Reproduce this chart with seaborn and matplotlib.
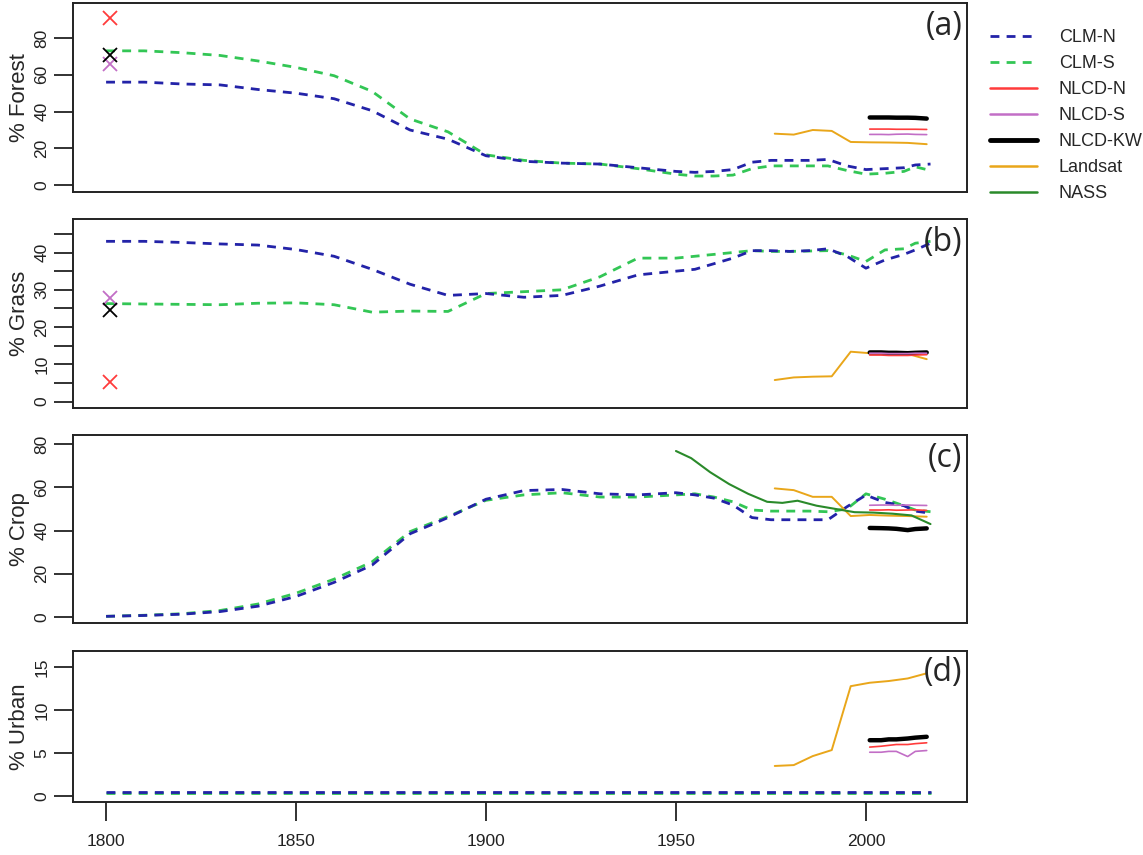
"""
Land cover fractions 1800-2017: CLM vs NLCD / Landsat / NASS
"""

import numpy as np
import matplotlib
matplotlib.use('Agg')
import matplotlib.pyplot as plt
import seaborn as sns
from matplotlib.lines import Line2D

sns.set_style("white")
plt.rcParams['font.family'] = ['Liberation Sans', 'DejaVu Sans']

# ---- data ----
clm_years = [1800, 1810, 1820, 1830, 1840, 1850, 1860, 1870, 1880, 1890,
             1900, 1910, 1920, 1930, 1940, 1950, 1955, 1960, 1965, 1970,
             1975, 1980, 1985, 1990, 1995, 2000, 2005, 2010, 2013, 2017]

forest_clm_n = [56, 56, 55, 54.5, 52, 50, 47, 40.5, 30, 25,
                16, 13, 12, 11.5, 9.5, 7.5, 7, 7.5, 8.5, 12.5,
                13.5, 13.5, 13.5, 14, 10.5, 8.5, 9, 9.5, 11, 11.5]
forest_clm_s = [73, 73, 72, 70.5, 67.5, 64, 59.5, 51, 36, 29,
                16.5, 13.5, 12, 11.5, 9, 6, 5, 5, 5.5, 9,
                10.5, 10.5, 10.5, 10.5, 8, 6, 6.5, 7.5, 10, 8]
grass_clm_n = [43, 43, 42.7, 42.3, 42, 40.8, 39, 35.5, 31.5, 28.5,
               29, 28, 28.5, 31, 34, 35, 35.5, 37, 38.5, 40.5,
               40.5, 40.3, 40.5, 41, 39, 35.8, 38, 39.5, 40.7, 42.5]
grass_clm_s = [26.3, 26.2, 26.1, 26, 26.4, 26.5, 26, 24, 24.3, 24.2,
               29, 29.5, 30, 33.5, 38.5, 38.5, 39, 39.5, 40, 40.5,
               40.3, 40.3, 40.4, 40.5, 39.4, 37.6, 40.7, 41, 42.5, 43]
crop_clm_n = [0.3, 0.7, 1.3, 2.5, 5, 9.5, 16, 24, 38.5, 46,
              54.5, 58.5, 59, 57, 56.5, 57.5, 56.5, 55, 51.8, 46,
              45, 45, 45, 45, 51, 56.4, 53, 51.5, 49, 48]
crop_clm_s = [0.3, 0.8, 1.5, 3, 6, 11, 17.5, 25.5, 39.5, 46.5,
              54, 56.5, 57.5, 55.5, 55.5, 56.5, 57, 55.5, 53.3, 49.5,
              49, 49, 49, 48.7, 50, 57, 54.5, 51.5, 49.5, 48.7]
urban_clm_n = [0.5, 0.5, 0.5, 0.5, 0.5, 0.5, 0.5, 0.5, 0.5, 0.5,
               0.5, 0.5, 0.5, 0.5, 0.5, 0.5, 0.5, 0.5, 0.5, 0.5,
               0.5, 0.5, 0.5, 0.5, 0.5, 0.5, 0.5, 0.5, 0.5, 0.5]
urban_clm_s = [0.3, 0.3, 0.3, 0.3, 0.3, 0.3, 0.3, 0.3, 0.3, 0.3,
               0.3, 0.3, 0.3, 0.3, 0.3, 0.3, 0.3, 0.3, 0.3, 0.3,
               0.3, 0.3, 0.3, 0.3, 0.3, 0.3, 0.3, 0.3, 0.3, 0.3]

nlcd_years = [2001, 2004, 2006, 2008, 2011, 2013, 2016]
forest_nlcd_n = [30.5, 30.5, 30.5, 30.4, 30.4, 30.4, 30.3]
forest_nlcd_s = [27.6, 27.6, 27.5, 27.7, 27.8, 27.6, 27.5]
forest_nlcd_kw = [36.8, 36.8, 36.8, 36.7, 36.7, 36.6, 36.2]
grass_nlcd_n = [12.5, 12.5, 12.4, 12.4, 12.4, 12.5, 12.6]
grass_nlcd_s = [13.0, 13.0, 12.9, 12.9, 12.9, 13.0, 13.0]
grass_nlcd_kw = [13.2, 13.2, 13.1, 13.1, 13.0, 13.1, 13.2]
crop_nlcd_n = [49.5, 49.5, 49.6, 49.4, 49.5, 49.6, 49.3]
crop_nlcd_s = [51.7, 51.8, 51.8, 51.7, 51.8, 51.7, 51.6]
crop_nlcd_kw = [41.2, 41.1, 41.0, 40.8, 40.2, 40.7, 41.0]
urban_nlcd_n = [5.7, 5.8, 5.9, 6.0, 6.0, 6.1, 6.2]
urban_nlcd_s = [5.1, 5.1, 5.2, 5.2, 4.6, 5.2, 5.3]
urban_nlcd_kw = [6.5, 6.5, 6.6, 6.6, 6.7, 6.8, 6.9]

landsat_years = [1976, 1981, 1986, 1991, 1996, 2001, 2006, 2011, 2016]
forest_landsat = [28, 27.5, 30, 29.5, 23.5, 23.3, 23.2, 23, 22.3]
grass_landsat = [5.8, 6.5, 6.7, 6.8, 13.4, 13.0, 13.0, 12.8, 11.4]
crop_landsat = [59.5, 58.7, 55.6, 55.6, 46.7, 47.2, 46.9, 46.7, 46.4]
urban_landsat = [3.5, 3.6, 4.65, 5.35, 12.8, 13.2, 13.4, 13.7, 14.3]

nass_years = [1950, 1954, 1959, 1964, 1969, 1974, 1978, 1982, 1987, 1992,
              1997, 2002, 2007, 2012, 2017]
crop_nass = [76.8, 73.5, 67, 61.5, 57, 53.3, 52.8, 53.8, 51.5, 50,
             48.5, 48.3, 47.8, 47, 43]

# historical reference estimates (x marks), order: NLCD-N, NLCD-S, NLCD-KW
hist_year = 1801
forest_hist = [90.7, 66.0, 71.0]
grass_hist = [5.4, 27.8, 24.6]

# ---- styles ----
c_clm_n = '#2323a8'
c_clm_s = '#33c655'
c_nlcd_n = '#ff3b3b'
c_nlcd_s = '#c26ec6'
c_nlcd_kw = '#000000'
c_landsat = '#e9a61a'
c_nass = '#2a8a2a'
dash = (3.2, 2.6)

panels = [
    dict(label='(a)', ylabel='% Forest', clm=(forest_clm_n, forest_clm_s),
         nlcd=(forest_nlcd_n, forest_nlcd_s, forest_nlcd_kw), landsat=forest_landsat,
         nass=None, hist=forest_hist, ylim=(-3.7, 99), ticks=[0, 20, 40, 60, 80],
         labels=[0, 20, 40, 60, 80]),
    dict(label='(b)', ylabel='% Grass', clm=(grass_clm_n, grass_clm_s),
         nlcd=(grass_nlcd_n, grass_nlcd_s, grass_nlcd_kw), landsat=grass_landsat,
         nass=None, hist=grass_hist, ylim=(-1.7, 49), ticks=list(range(0, 50, 5)),
         labels=[0, 10, 20, 30, 40]),
    dict(label='(c)', ylabel='% Crop', clm=(crop_clm_n, crop_clm_s),
         nlcd=(crop_nlcd_n, crop_nlcd_s, crop_nlcd_kw), landsat=crop_landsat,
         nass=crop_nass, hist=None, ylim=(-2.8, 84.2), ticks=[0, 20, 40, 60, 80],
         labels=[0, 20, 40, 60, 80]),
    dict(label='(d)', ylabel='% Urban', clm=(urban_clm_n, urban_clm_s),
         nlcd=(urban_nlcd_n, urban_nlcd_s, urban_nlcd_kw), landsat=urban_landsat,
         nass=None, hist=None, ylim=(-0.7, 16.9), ticks=[0, 5, 10, 15],
         labels=[0, 5, 10, 15]),
]

# axes boxes in figure fraction (left, bottom, width, height)
boxes = [
    (0.0639, 0.7754, 0.7821, 0.2211),
    (0.0639, 0.5228, 0.7821, 0.2211),
    (0.0639, 0.2713, 0.7821, 0.2199),
    (0.0639, 0.0620, 0.7821, 0.1766),
]

fig = plt.figure(figsize=(11.43, 8.55), dpi=100)

for p, box in zip(panels, boxes):
    ax = fig.add_axes(box)
    sns.lineplot(x=clm_years, y=p['clm'][1], ax=ax, color=c_clm_s, lw=2.0,
                 linestyle=(0, dash))
    sns.lineplot(x=clm_years, y=p['clm'][0], ax=ax, color=c_clm_n, lw=2.0,
                 linestyle=(0, dash))
    sns.lineplot(x=landsat_years, y=p['landsat'], ax=ax, color=c_landsat, lw=1.4)
    if p['nass'] is not None:
        sns.lineplot(x=nass_years, y=p['nass'], ax=ax, color=c_nass, lw=1.5)
    sns.lineplot(x=nlcd_years, y=p['nlcd'][2], ax=ax, color=c_nlcd_kw, lw=3.2)
    sns.lineplot(x=nlcd_years, y=p['nlcd'][0], ax=ax, color=c_nlcd_n, lw=1.2)
    sns.lineplot(x=nlcd_years, y=p['nlcd'][1], ax=ax, color=c_nlcd_s, lw=1.2)
    if p['hist'] is not None:
        for val, col in zip(p['hist'], [c_nlcd_n, c_nlcd_s, c_nlcd_kw]):
            ax.plot([hist_year], [val], marker='x', ms=10, mew=1.3, color=col,
                    linestyle='none')
    ax.set_xlim(1791.3, 2026.6)
    ax.set_ylim(*p['ylim'])
    ax.set_yticks(p['ticks'])
    ax.set_yticklabels([str(t) if t in p['labels'] else '' for t in p['ticks']],
                       rotation=90, va='center', fontsize=12.5)
    ax.tick_params(axis='y', direction='out', length=14, width=1.3, pad=3,
                   left=True, colors='#222222')
    ax.set_ylabel(p['ylabel'], fontsize=16, labelpad=3)
    ax.set_xlabel('')
    for s in ax.spines.values():
        s.set_color('#222222')
        s.set_linewidth(1.4)
    ax.text(0.995, 0.965, p['label'], transform=ax.transAxes, ha='right', va='top',
            fontsize=23, family=['Open Sans', 'DejaVu Sans'])
    if p['label'] == '(d)':
        ax.set_xticks([1800, 1850, 1900, 1950, 2000])
        ax.tick_params(axis='x', direction='out', length=14, width=1.3, pad=9,
                       bottom=True, labelsize=12.5, colors='#222222')
    else:
        ax.set_xticks([])

handles = [
    Line2D([], [], color=c_clm_n, lw=2.0, linestyle=(0, dash)),
    Line2D([], [], color=c_clm_s, lw=2.0, linestyle=(0, dash)),
    Line2D([], [], color=c_nlcd_n, lw=1.8),
    Line2D([], [], color=c_nlcd_s, lw=1.8),
    Line2D([], [], color=c_nlcd_kw, lw=3.5),
    Line2D([], [], color=c_landsat, lw=1.8),
    Line2D([], [], color=c_nass, lw=1.8),
]
names = ['CLM-N', 'CLM-S', 'NLCD-N', 'NLCD-S', 'NLCD-KW', 'Landsat', 'NASS']
fig.legend(handles, names, loc='upper left', bbox_to_anchor=(0.852, 0.985),
           frameon=False, fontsize=13, handlelength=2.6, handletextpad=1.2,
           labelspacing=0.5)

plt.savefig('out.png', dpi=100)
print("saved out.png")
